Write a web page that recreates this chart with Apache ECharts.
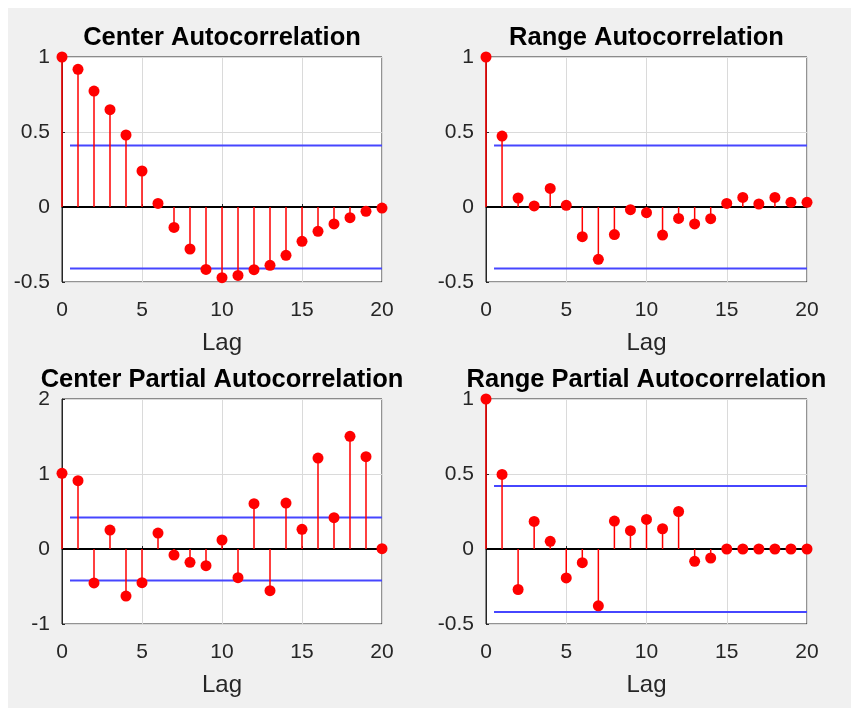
<!DOCTYPE html>
<html>
<head>
<meta charset="utf-8">
<script src="https://cdn.jsdelivr.net/npm/echarts@6/dist/echarts.min.js"></script>
<style>
  html, body { margin: 0; padding: 0; background: #ffffff; }
  #chart { width: 851px; height: 708px; }
</style>
</head>
<body>
<div id="chart"></div>
<script>
// Lags shared by every panel
const lags = [0, 1, 2, 3, 4, 5, 6, 7, 8, 9, 10, 11, 12, 13, 14, 15, 16, 17, 18, 19, 20];

// Sample autocorrelation of the interval centers
const centerAcf = [1, 0.918, 0.773, 0.649, 0.48, 0.24, 0.024, -0.136, -0.28, -0.416, -0.471,
  -0.456, -0.418, -0.389, -0.322, -0.229, -0.162, -0.113, -0.071, -0.029, -0.007];

// Sample autocorrelation of the interval ranges
const rangeAcf = [1, 0.473, 0.06, 0.007, 0.124, 0.011, -0.198, -0.349, -0.184, -0.018, -0.038,
  -0.187, -0.076, -0.113, -0.078, 0.024, 0.064, 0.02, 0.064, 0.031, 0.031];

// Partial autocorrelation of the centers
const centerPacf = [1.009, 0.911, -0.453, 0.253, -0.627, -0.449, 0.213, -0.08, -0.178, -0.222, 0.12,
  -0.382, 0.604, -0.556, 0.613, 0.262, 1.213, 0.418, 1.502, 1.231, 0.004];

// Partial autocorrelation of the ranges
const rangePacf = [1, 0.497, -0.27, 0.184, 0.051, -0.193, -0.091, -0.379, 0.186, 0.122, 0.197,
  0.135, 0.25, -0.082, -0.06, 0, 0, 0, 0, 0, 0];

// Approximate confidence bounds
const acfBound = 0.41;
const pacfBound = 0.42;

// Panel titles and y-axis ranges
const titles = ['Center Autocorrelation', 'Range Autocorrelation',
  'Center Partial Autocorrelation', 'Range Partial Autocorrelation'];
const yRanges = [[-0.5, 1, 0.5], [-0.5, 1, 0.5], [-1, 2, 1], [-0.5, 1, 0.5]];
const panelValues = [centerAcf, rangeAcf, centerPacf, rangePacf];
const panelBounds = [acfBound, acfBound, pacfBound, pacfBound];

const FONT = "'Liberation Sans', Arial, Helvetica, sans-serif";
const AXIS_COLOR = '#262626';

const grids = [
  { left: 62, top: 57, width: 320, height: 225 },
  { left: 486, top: 57, width: 321, height: 225 },
  { left: 62, top: 399, width: 320, height: 225 },
  { left: 486, top: 399, width: 321, height: 225 }
];

const chart = echarts.init(document.getElementById('chart'), null, { renderer: 'canvas' });

const option = {
  backgroundColor: '#ffffff',
  animation: false,
  graphic: [{
    type: 'rect',
    z: -10,
    shape: { x: 8, y: 8, width: 843, height: 700 },
    style: { fill: '#f0f0f0' },
    silent: true
  }],
  title: titles.map((t, i) => ({
    text: t,
    left: grids[i].left + grids[i].width / 2,
    textAlign: 'center',
    top: grids[i].top - 32,
    padding: 0,
    textStyle: { fontFamily: FONT, fontSize: 25.5, fontWeight: 'bold', color: '#000000' }
  })),
  grid: grids.map(g => Object.assign({
    show: true,
    backgroundColor: '#ffffff',
    borderColor: AXIS_COLOR,
    borderWidth: 1
  }, g)),
  xAxis: grids.map((g, i) => ({
    type: 'value',
    gridIndex: i,
    min: 0,
    max: 20,
    interval: 5,
    name: 'Lag',
    nameLocation: 'middle',
    nameGap: 49,
    nameTextStyle: { fontFamily: FONT, fontSize: 24, color: AXIS_COLOR },
    axisLine: { show: true, lineStyle: { color: AXIS_COLOR, width: 1 } },
    axisTick: { show: true, inside: true, length: 3, lineStyle: { color: AXIS_COLOR } },
    axisLabel: { fontFamily: FONT, fontSize: 21, color: AXIS_COLOR, margin: 18 },
    splitLine: { show: true, lineStyle: { color: '#dadada', width: 1 } }
  })),
  yAxis: grids.map((g, i) => ({
    type: 'value',
    gridIndex: i,
    min: yRanges[i][0],
    max: yRanges[i][1],
    interval: yRanges[i][2],
    axisLine: { show: true, lineStyle: { color: AXIS_COLOR, width: 1 } },
    axisTick: { show: true, inside: true, length: 3, lineStyle: { color: AXIS_COLOR } },
    axisLabel: { fontFamily: FONT, fontSize: 21, color: AXIS_COLOR, margin: 12, padding: [7, 0, 0, 0] },
    splitLine: { show: true, lineStyle: { color: '#dadada', width: 1 } }
  })),
  series: []
};

panelValues.forEach((vals, i) => {
  const b = panelBounds[i];
  // zero baseline
  option.series.push({
    type: 'line',
    xAxisIndex: i, yAxisIndex: i,
    data: [[0, 0], [20, 0]],
    symbol: 'none',
    lineStyle: { color: '#000000', width: 2 },
    z: 3,
    silent: true
  });
  // upper and lower confidence bounds
  [b, -b].forEach(v => {
    option.series.push({
      type: 'line',
      xAxisIndex: i, yAxisIndex: i,
      data: [[0.5, v], [20, v]],
      symbol: 'none',
      lineStyle: { color: '#4646ff', width: 1.8 },
      z: 3,
      silent: true
    });
  });
  // stems with filled markers
  option.series.push({
    type: 'custom',
    xAxisIndex: i, yAxisIndex: i,
    data: lags.map((l, k) => [l, vals[k]]),
    z: 4,
    clip: false,
    renderItem: function (params, api) {
      const x = api.value(0);
      const y = api.value(1);
      const base = api.coord([x, 0]);
      const tip = api.coord([x, y]);
      return {
        type: 'group',
        children: [
          {
            type: 'line',
            shape: { x1: base[0], y1: base[1], x2: tip[0], y2: tip[1] },
            style: { stroke: '#ff0000', lineWidth: 1.5 }
          },
          {
            type: 'circle',
            shape: { cx: tip[0], cy: tip[1], r: 5.5 },
            style: { fill: '#ff0000' }
          }
        ]
      };
    }
  });
});

chart.setOption(option);
</script>
</body>
</html>
